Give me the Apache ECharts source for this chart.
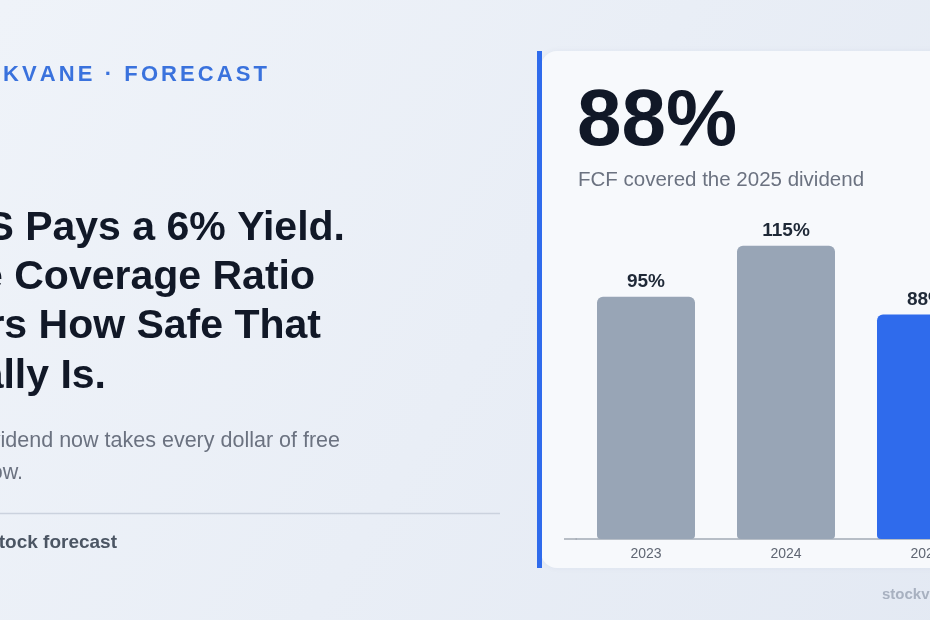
<!DOCTYPE html>
<html>
<head>
<meta charset="utf-8">
<script src="https://cdn.jsdelivr.net/npm/echarts@6/dist/echarts.min.js"></script>
<style>
  html, body { margin: 0; padding: 0; background: #e9eef6; width: 930px; height: 620px; overflow: hidden; }
  /* the card runs past the right edge, so the canvas is wider than the window */
  #chart { width: 1000px; height: 620px; }
</style>
</head>
<body>
<div id="chart"></div>
<script>
var years = ['2023', '2024', '2025'];
var coverage = [95, 115, 88];
var barColors = ['#98a5b6', '#98a5b6', '#2f6bec'];

var kicker = 'STOCKVANE · FORECAST';
var headline = ['KSS Pays a 6% Yield.', 'The Coverage Ratio', 'Answers How Safe That', 'Yield Really Is.'];
var subline = ['The dividend now takes every dollar of free', 'cash flow.'];
var footerText = 'KSS stock forecast';
var watermark = 'stockvane';

var FONT = '"Liberation Sans", Arial, Helvetica, sans-serif';
var measureCtx = document.createElement('canvas').getContext('2d');

function textWidth(str, font) {
  measureCtx.font = font;
  return measureCtx.measureText(str).width;
}

// zrender has no letter-spacing, so lay the kicker out one glyph at a time
function spacedText(str, visibleFrom, visibleX, y, font, spacing, color) {
  var x = visibleX;
  var i;
  for (i = 0; i < visibleFrom; i++) {
    x -= textWidth(str[i], font) + spacing;
  }
  var out = [];
  for (i = 0; i < str.length; i++) {
    out.push({
      type: 'text', z: 5,
      style: { text: str[i], x: x, y: y, font: font, fill: color, textVerticalAlign: 'middle', verticalAlign: 'middle' }
    });
    x += textWidth(str[i], font) + spacing;
  }
  return out;
}

function line(str, x, baseline, size, weight, color, align) {
  return {
    type: 'text', z: 5,
    style: {
      text: str, x: x, y: baseline - size * 0.35,
      font: weight + ' ' + size + 'px ' + FONT,
      fill: color,
      textAlign: align, align: align,
      textVerticalAlign: 'middle', verticalAlign: 'middle'
    }
  };
}

var graphics = [
  { type: 'rect', z: 0, shape: { x: 541, y: 51, width: 460, height: 517, r: [16, 0, 0, 16] },
    style: { fill: '#f7f9fc', shadowBlur: 6, shadowColor: 'rgba(30,50,90,0.05)' } },
  { type: 'rect', z: 1, shape: { x: 537, y: 51, width: 5, height: 517 }, style: { fill: '#2f6bec' } },
  { type: 'line', z: 1, shape: { x1: 0, y1: 513.5, x2: 500, y2: 513.5 }, style: { stroke: '#cbd2de', lineWidth: 1.5 } },
  { type: 'line', z: 1, shape: { x1: 564, y1: 539, x2: 577, y2: 539 }, style: { stroke: '#a3aab5', lineWidth: 1.5 } }
];

graphics = graphics.concat(spacedText(kicker, 4, 3, 75, 'bold 22px ' + FONT, 3.1, '#3a72dd'));

var headEnds = [345, 315, 321, 106];
var headBase = [243, 292, 341, 391];
headline.forEach(function (txt, i) {
  graphics.push(line(txt, headEnds[i], headBase[i], 41, 'bold', '#111827', 'right'));
});

var subEnds = [340, 23];
var subBase = [449, 481];
subline.forEach(function (txt, i) {
  graphics.push(line(txt, subEnds[i], subBase[i], 21.5, 'normal', '#6b7280', 'right'));
});

graphics.push(line(footerText, 117, 549, 19, 'bold', '#4b5563', 'right'));
graphics.push(line(coverage[2] + '%', 577, 151, 80, 'bold', '#111827', 'left'));
graphics.push(line('FCF covered the ' + years[2] + ' dividend', 578, 188, 20.5, 'normal', '#6b7280', 'left'));
graphics.push(line(watermark, 882, 600, 15, 'bold', '#a8b1c0', 'left'));

var chart = echarts.init(document.getElementById('chart'));
chart.setOption({
  backgroundColor: new echarts.graphic.LinearGradient(0, 0, 1, 1, [
    { offset: 0, color: '#eff3f9' },
    { offset: 1, color: '#e3e9f3' }
  ]),
  animation: false,
  textStyle: { fontFamily: FONT },
  graphic: graphics,
  grid: { left: 576, top: 233, width: 420, height: 306 },
  xAxis: {
    type: 'category',
    data: years,
    axisLine: { lineStyle: { color: '#a3aab5', width: 1.5 } },
    axisTick: { show: false },
    axisLabel: { color: '#5f6673', fontSize: 14, margin: 8 }
  },
  yAxis: { type: 'value', min: 0, max: 120, show: false },
  series: [{
    type: 'bar',
    barWidth: 98,
    z: 3,
    data: coverage.map(function (v, i) {
      return { value: v, itemStyle: { color: barColors[i], borderRadius: [6, 6, 4, 4] } };
    }),
    label: {
      show: true,
      position: 'top',
      distance: 5,
      formatter: '{c}%',
      fontSize: 19,
      fontWeight: 'bold',
      color: '#1f2937'
    }
  }]
});
</script>
</body>
</html>
